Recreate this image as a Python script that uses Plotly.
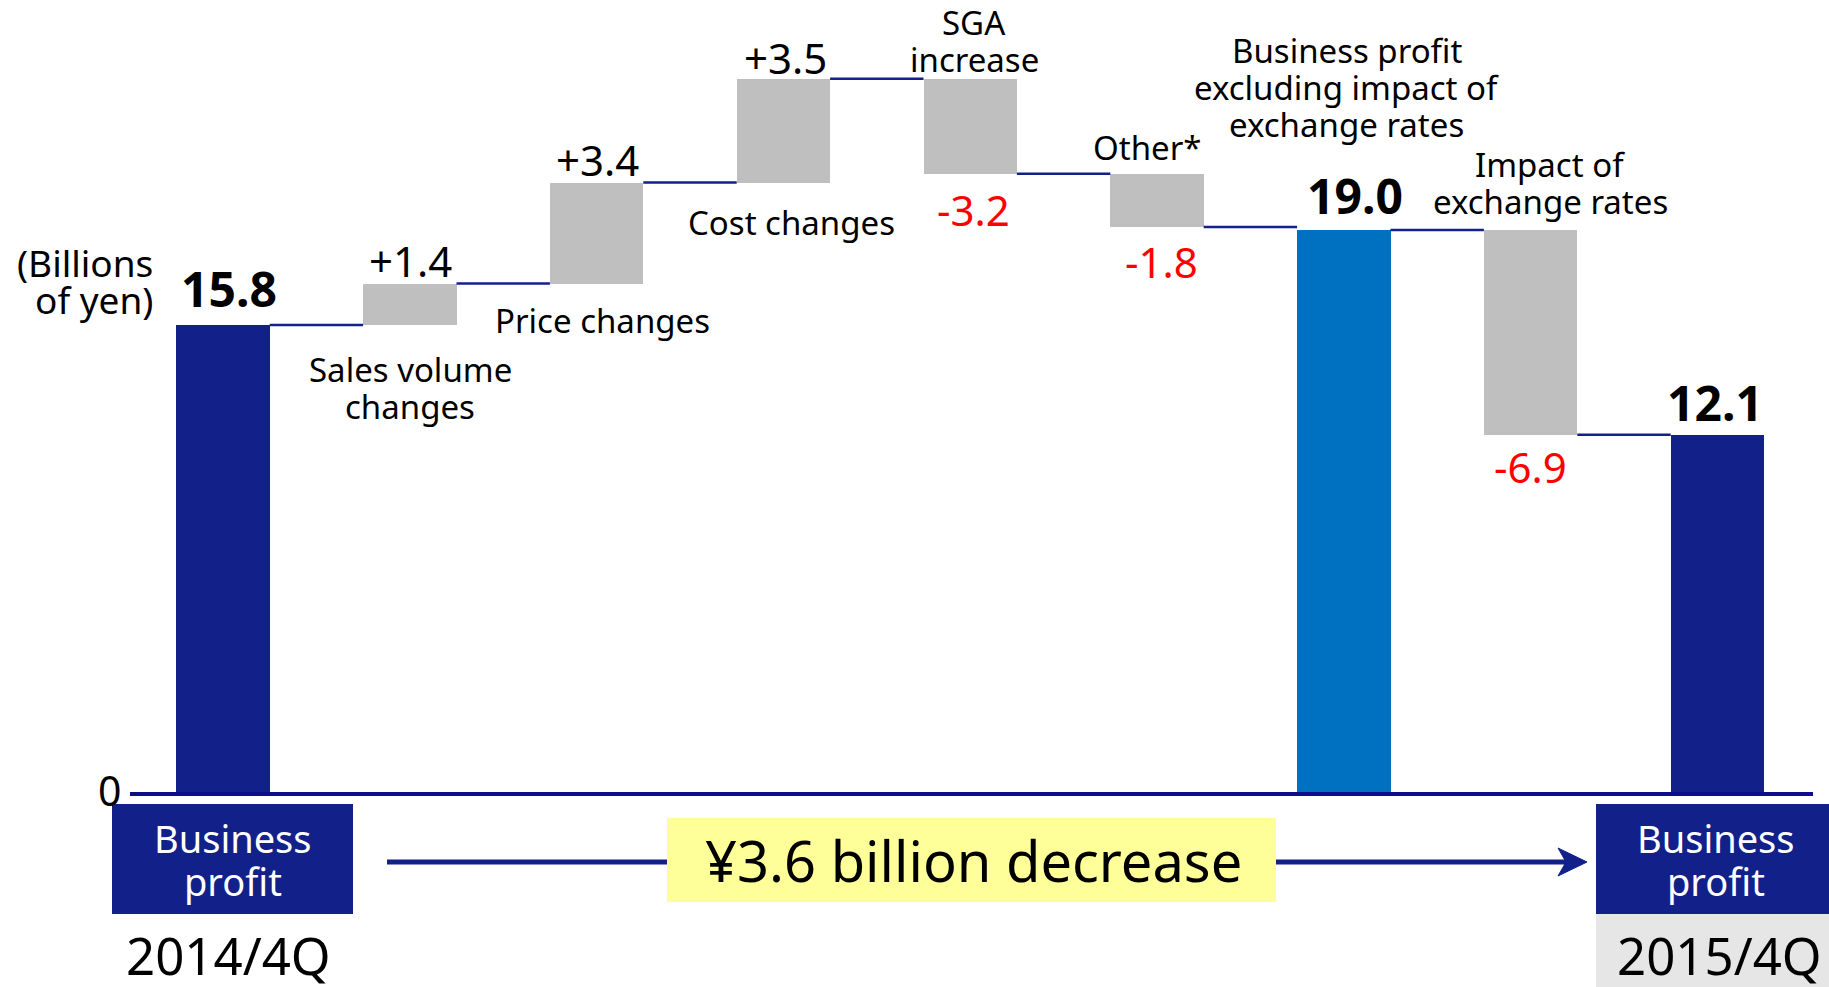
import plotly.graph_objects as go

# ---------------- data ----------------
categories = [
    "Business profit 2014/4Q", "Sales volume changes", "Price changes",
    "Cost changes", "SGA increase", "Other*",
    "Business profit excluding impact of exchange rates",
    "Impact of exchange rates", "Business profit 2015/4Q",
]
values = [15.8, 1.4, 3.4, 3.5, -3.2, -1.8, 19.0, -6.9, 12.1]
kinds = ["total", "delta", "delta", "delta", "delta", "delta", "total", "delta", "total"]
label_lines = [
    None,
    ["Sales volume", "changes"],
    ["Price changes"],
    ["Cost changes"],
    ["SGA", "increase"],
    ["Other*"],
    ["Business profit", "excluding impact of", "exchange rates"],
    ["Impact of", "exchange rates"],
    None,
]
period_labels = ["2014/4Q", "2015/4Q"]
box_label = ["Business", "profit"]
unit_label = ["(Billions", "of yen)"]
summary_text = "¥3.6 billion decrease"

# ---------------- derived geometry ----------------
bases, heights, ends = [], [], []
running = 0.0
for v, k in zip(values, kinds):
    if k == "total":
        bases.append(0.0); heights.append(v); running = v
    else:
        bases.append(running if v >= 0 else running + v)
        heights.append(abs(v)); running = running + v
    ends.append(running)

W, H = 1829, 987
FONT = "Noto Sans"
NAVY = "#12208a"
BLUE = "#0070c0"
GRAY = "#bfbfbf"
RED = "#ff0000"
STEP = 186.8   # px per category
X0 = 223       # px of first category centre
Y0 = 794       # px of zero line
YS = 29.68     # px per unit

colors = []
for i, k in enumerate(kinds):
    if k == "total":
        colors.append(BLUE if i == 6 else NAVY)
    else:
        colors.append(GRAY)

x = list(range(len(values)))
BW = 0.5

fig = go.Figure()
fig.add_trace(go.Bar(x=x, y=heights, base=bases, width=BW,
                     marker=dict(color=colors, line=dict(width=0)),
                     hoverinfo="skip", showlegend=False))

# connectors
for i in range(len(values) - 1):
    fig.add_shape(type="line", xref="x", yref="y",
                  x0=i + BW / 2, x1=i + 1 - BW / 2, y0=ends[i], y1=ends[i],
                  line=dict(color=NAVY, width=2.5), layer="above")


def px(xp):
    return xp / W


def py(yp):
    return 1 - yp / H


# zero axis line
fig.add_shape(type="line", xref="paper", yref="y", x0=px(130), x1=px(1813), y0=0, y1=0,
              line=dict(color="#0c0c8c", width=4), layer="above")


def txt(lines, xx, yy, dx, dy, size, color="black", bold=False,
        xref="x", yref="y", lh=None, xanchor="center"):
    n = len(lines)
    lh = lh if lh is not None else size * 1.12
    for k, line in enumerate(lines):
        off = ((n - 1) / 2 - k) * lh
        t = f"<b>{line}</b>" if bold else line
        fig.add_annotation(x=xx, y=yy, xref=xref, yref=yref, text=t, showarrow=False,
                           xshift=dx, yshift=dy + off, xanchor=xanchor, yanchor="middle",
                           font=dict(family=FONT, size=size, color=color))


# value labels
value_off = [(5.6, 37), (0.5, 23), (1, 23), (2.5, 21.5), (3, -36), (4, -34),
             (11, 35), (0, -32), (-2, 32.4)]
for i, v in enumerate(values):
    top = bases[i] + heights[i]
    if kinds[i] == "total":
        txt([f"{v:.1f}"], i, top, value_off[i][0], value_off[i][1], 48, bold=True)
    elif v >= 0:
        txt([f"{v:+.1f}"], i, top, value_off[i][0], value_off[i][1], 42)
    else:
        txt([f"{v:+.1f}"], i, bases[i], value_off[i][0], value_off[i][1], 42, color=RED)

# category labels: (anchor, dx, dy)
cat_off = {1: ("bottom", 0.5, -63), 2: ("bottom", 6, -37.3), 3: ("bottom", 8.5, -40),
           4: ("top", 4, 37.3), 5: ("top", -10, 26), 6: ("top", 3, 142.5),
           7: ("top", 19.5, 47.5)}
for i, lines in enumerate(label_lines):
    if lines is None:
        continue
    anc, dx, dy = cat_off[i]
    yy = bases[i] + heights[i] if anc == "top" else bases[i]
    txt(lines, i, yy, dx, dy, 33, lh=37)

# unit label and zero tick
txt(unit_label, px(155), py(281), 0, 0, 37, xref="paper", yref="paper", lh=37, xanchor="right")
txt(["0"], px(109), py(790), 0, 0, 41, xref="paper", yref="paper")

# bottom boxes
for x0 in (112, 1596):
    fig.add_shape(type="rect", xref="paper", yref="paper", x0=px(x0), x1=px(x0 + 241),
                  y0=py(914), y1=py(804), fillcolor=NAVY, line=dict(width=0), layer="above")
fig.add_shape(type="rect", xref="paper", yref="paper", x0=px(1596), x1=px(1837),
              y0=py(990), y1=py(914), fillcolor="#e6e6e6", line=dict(width=0), layer="above")
txt(box_label, px(232.5), py(859), 0, 0, 38, color="white", xref="paper", yref="paper", lh=43)
txt(box_label, px(1716), py(859), 0, 0, 38, color="white", xref="paper", yref="paper", lh=43)
txt([period_labels[0]], px(228), py(955), 0, 0, 51, xref="paper", yref="paper")
txt([period_labels[1]], px(1719), py(955), 0, 0, 51, xref="paper", yref="paper")

# arrow
fig.add_shape(type="line", xref="paper", yref="paper", x0=px(387), x1=px(1570),
              y0=py(862), y1=py(862), line=dict(color=NAVY, width=5), layer="above")
ah = f"M {px(1587)} {py(862)} L {px(1558)} {py(848)} L {px(1566)} {py(862)} L {px(1558)} {py(876)} Z"
fig.add_shape(type="path", xref="paper", yref="paper", path=ah, fillcolor=NAVY,
              line=dict(color=NAVY, width=1), layer="above")
fig.add_shape(type="rect", xref="paper", yref="paper", x0=px(667), x1=px(1276),
              y0=py(902), y1=py(818), fillcolor="#ffff99", line=dict(width=0), layer="above")
txt([summary_text], px(973), py(860), 0, 0, 56, xref="paper", yref="paper")

fig.update_layout(
    width=W, height=H, margin=dict(l=0, r=0, t=0, b=0),
    paper_bgcolor="white", plot_bgcolor="white", bargap=0, showlegend=False,
    xaxis=dict(range=[-X0 / STEP, (W - X0) / STEP], visible=False, fixedrange=True),
    yaxis=dict(range=[-(H - Y0) / YS, Y0 / YS], visible=False, fixedrange=True),
    font=dict(family=FONT),
)

fig.write_html("out.html", config={"displayModeBar": False})
